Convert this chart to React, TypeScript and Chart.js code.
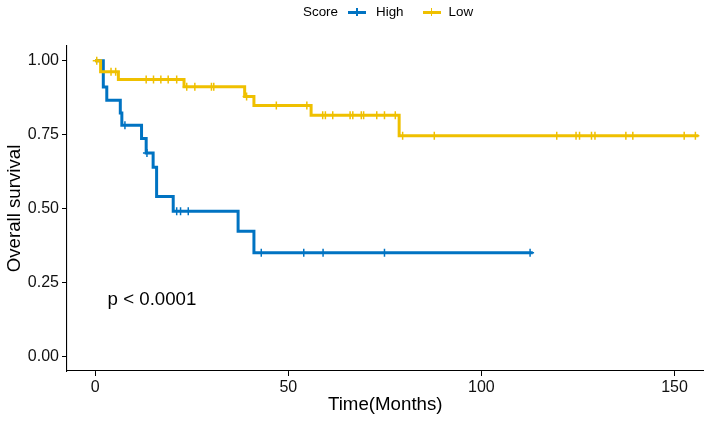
import { useEffect, useRef } from "react";
import { Chart, registerables } from "chart.js";

Chart.register(...registerables);

// Kaplan-Meier curves (time in months)
// High score group: times where survival steps down, and the survival after each step
const highTimes = [0, 2.1, 3.0, 6.5, 6.9, 12.0, 13.2, 15.0, 15.9, 20.2, 37.0, 41.1, 113.3];
const highSurv = [1.0, 0.911, 0.866, 0.823, 0.782, 0.737, 0.688, 0.64, 0.541, 0.491, 0.423, 0.35, 0.35];
const highCensored = [7.7, 13.4, 21.1, 22.1, 24.1, 43.0, 54.0, 59.0, 74.9, 112.6];

// Low score group
const lowTimes = [0, 1.4, 6.0, 23.0, 38.7, 41.1, 55.9, 78.7, 156.2];
const lowSurv = [1.0, 0.963, 0.937, 0.912, 0.879, 0.849, 0.816, 0.746, 0.746];
const lowCensored = [
  0.4, 4.1, 5.3, 13.2, 15.1, 17.0, 18.9, 21.1, 23.7, 25.8, 30.1, 30.7, 39.2, 46.9,
  54.8, 58.9, 59.6, 61.5, 66.0, 66.7, 68.9, 69.5, 72.9, 74.9, 77.7, 79.6, 87.8,
  119.5, 124.5, 125.4, 128.5, 129.4, 137.4, 139.2, 152.5, 155.4,
];

const xTicks = [0, 50, 100, 150];
const yTicks = [0, 0.25, 0.5, 0.75, 1.0];

const pValueText = "p < 0.0001";

const BLUE = "#0073C2";
const YELLOW = "#EFC000";
const FONT = "'Liberation Sans', Arial, sans-serif";

// survival of the step curve at time t
function survAt(times: number[], surv: number[], t: number) {
  let s = surv[0];
  for (let i = 0; i < times.length; i++) {
    if (times[i] <= t) s = surv[i];
  }
  return s;
}

const pValuePlugin = {
  id: "pValue",
  afterDatasetsDraw(chart: any) {
    const { ctx, scales } = chart;
    ctx.save();
    ctx.font = `18.7px ${FONT}`;
    ctx.fillStyle = "#000";
    ctx.textAlign = "left";
    ctx.textBaseline = "middle";
    ctx.fillText(pValueText, scales.x.getPixelForValue(3.2), scales.y.getPixelForValue(0.19));
    ctx.restore();
  },
};

function LegendKey({ color }: { color: string }) {
  return (
    <span style={{ position: "relative", display: "inline-block", width: 18, height: 12 }}>
      <span style={{ position: "absolute", left: 0, top: 4.5, width: 18, height: 3, background: color }} />
      <span style={{ position: "absolute", left: 8.25, top: 2, width: 1.5, height: 8, background: color }} />
    </span>
  );
}

export default function App() {
  const canvasRef = useRef<HTMLCanvasElement>(null);

  useEffect(() => {
    const canvas = canvasRef.current;
    if (!canvas) return;

    const chart = new Chart(canvas, {
      type: "line",
      data: {
        datasets: [
          {
            label: "Low",
            data: lowTimes.map((t, i) => ({ x: t, y: lowSurv[i] })),
            stepped: "before",
            borderColor: YELLOW,
            borderWidth: 3,
            pointRadius: 0,
            fill: false,
            order: 0,
          },
          {
            label: "Low censored",
            data: lowCensored.map((t) => ({ x: t, y: survAt(lowTimes, lowSurv, t) })),
            showLine: false,
            pointStyle: "cross",
            pointRadius: 4,
            borderColor: YELLOW,
            backgroundColor: YELLOW,
            borderWidth: 1.5,
            order: 0,
          },
          {
            label: "High",
            data: highTimes.map((t, i) => ({ x: t, y: highSurv[i] })),
            stepped: "before",
            borderColor: BLUE,
            borderWidth: 3,
            pointRadius: 0,
            fill: false,
            order: 1,
          },
          {
            label: "High censored",
            data: highCensored.map((t) => ({ x: t, y: survAt(highTimes, highSurv, t) })),
            showLine: false,
            pointStyle: "cross",
            pointRadius: 4,
            borderColor: BLUE,
            backgroundColor: BLUE,
            borderWidth: 1.5,
            order: 1,
          },
        ] as any,
      },
      options: {
        responsive: true,
        maintainAspectRatio: false,
        animation: false,
        layout: { padding: { top: 46, right: 5, left: 0, bottom: 0 } },
        plugins: {
          legend: { display: false },
          tooltip: { enabled: false },
        },
        scales: {
          x: {
            type: "linear",
            min: -7.3,
            max: 157.5,
            afterBuildTicks: (scale: any) => {
              scale.ticks = xTicks.map((v) => ({ value: v }));
            },
            afterFit: (scale: any) => {
              scale.height = 51;
            },
            grid: { drawOnChartArea: false, drawTicks: true, tickLength: 5, color: "#000" },
            border: { display: true, color: "#000", width: 1.1 },
            ticks: {
              color: "#111",
              padding: 2,
              font: { family: FONT, size: 16 },
              callback: (v: any) => String(v),
            },
            title: {
              display: true,
              text: "Time(Months)",
              color: "#000",
              font: { family: FONT, size: 18.7 },
              padding: { top: 0, bottom: 6 },
            },
          },
          y: {
            type: "linear",
            min: -0.05,
            max: 1.05,
            afterBuildTicks: (scale: any) => {
              scale.ticks = yTicks.map((v) => ({ value: v }));
            },
            afterFit: (scale: any) => {
              scale.width = 67;
            },
            grid: { drawOnChartArea: false, drawTicks: true, tickLength: 5, color: "#000" },
            border: { display: true, color: "#000", width: 1.1 },
            ticks: {
              color: "#111",
              padding: 3,
              font: { family: FONT, size: 16 },
              callback: (v: any) => Number(v).toFixed(2),
            },
            title: {
              display: true,
              text: "Overall survival",
              color: "#000",
              font: { family: FONT, size: 18.7 },
              padding: { top: 4, bottom: 0 },
            },
          },
        },
      },
      plugins: [pValuePlugin],
    });

    return () => chart.destroy();
  }, []);

  const legendText = { fontSize: 13.4, color: "#000", lineHeight: "16px" };

  return (
    <div style={{ position: "absolute", left: 0, top: 0, width: 709, height: 422, background: "#fff", fontFamily: FONT }}>
      <div style={{ position: "absolute", left: 303, top: 4, display: "flex", alignItems: "center", height: 16 }}>
        <span style={legendText}>Score</span>
        <span style={{ width: 10 }} />
        <LegendKey color={BLUE} />
        <span style={{ width: 10 }} />
        <span style={legendText}>High</span>
        <span style={{ width: 19 }} />
        <LegendKey color={YELLOW} />
        <span style={{ width: 8 }} />
        <span style={legendText}>Low</span>
      </div>
      <canvas ref={canvasRef} width={709} height={422} />
    </div>
  );
}
